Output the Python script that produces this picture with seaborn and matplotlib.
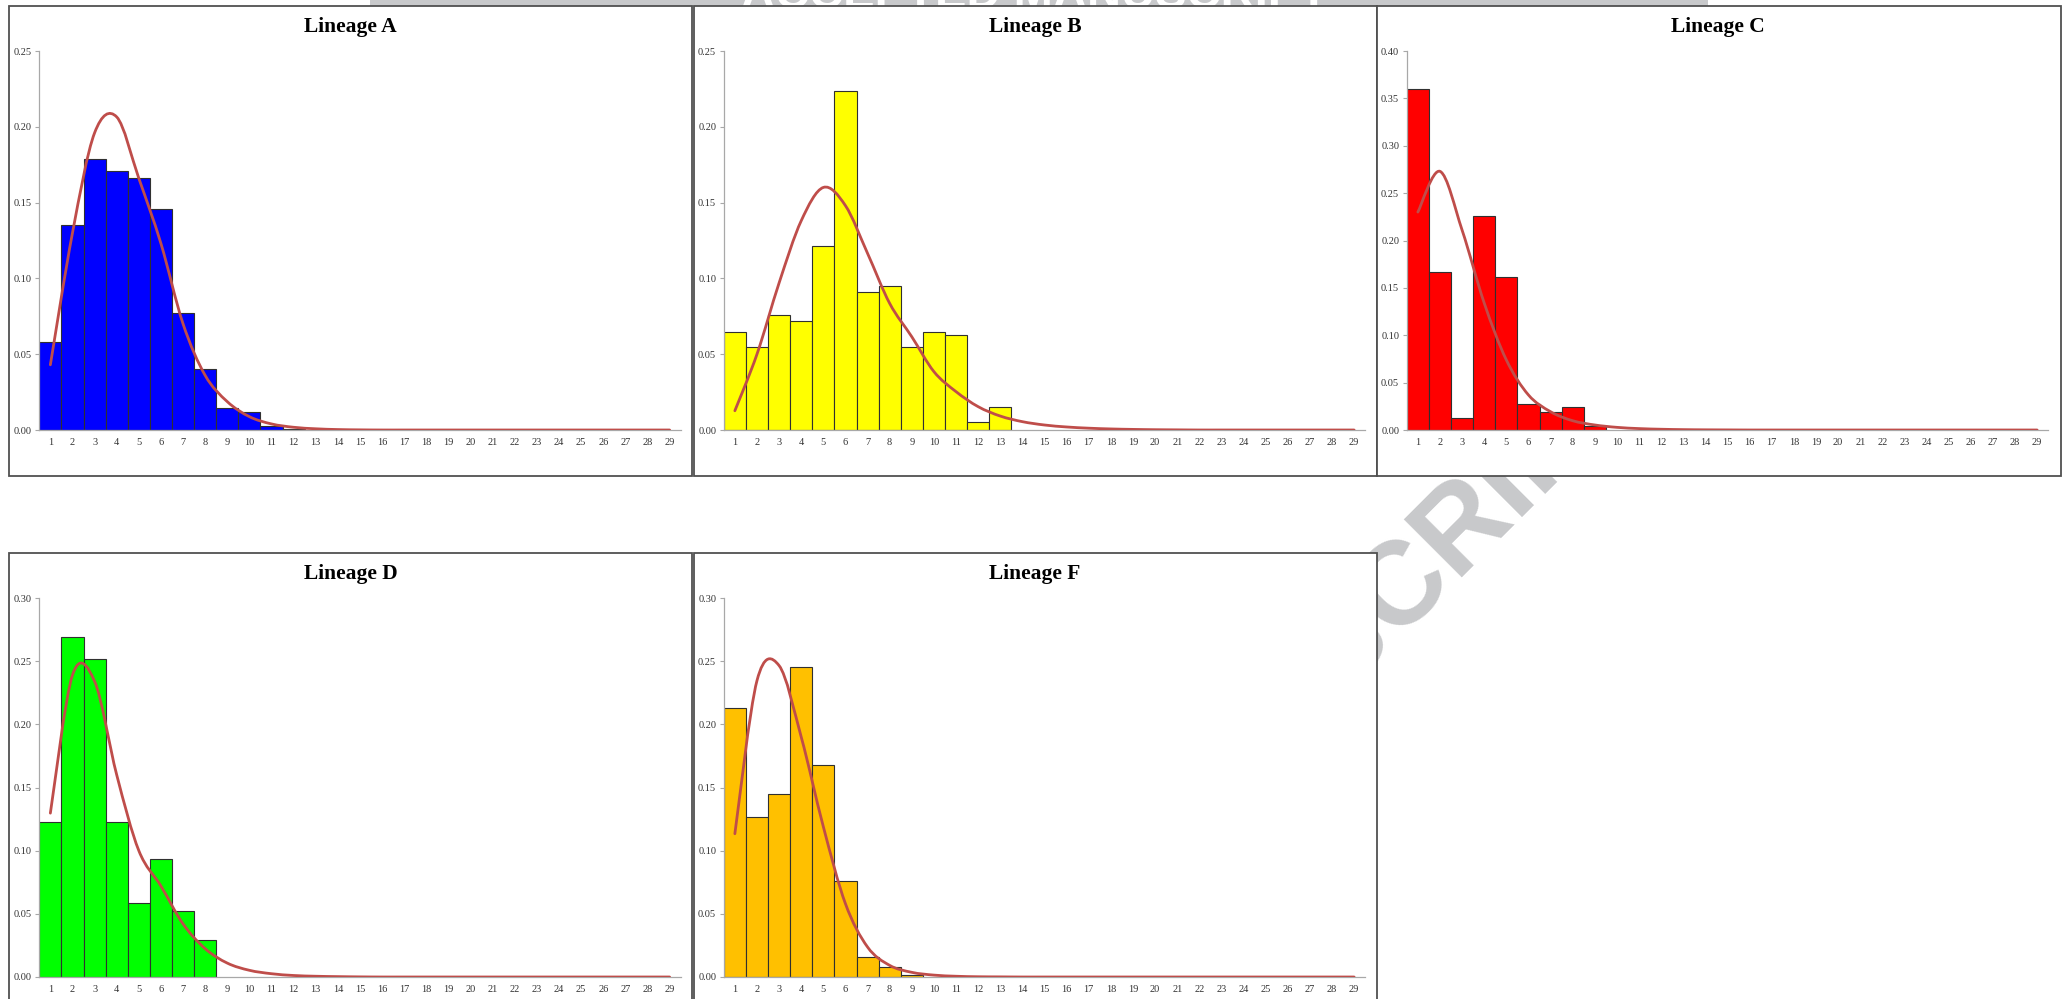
import numpy as np
import matplotlib
matplotlib.use("Agg")
import matplotlib.pyplot as plt
import seaborn as sns
from matplotlib.patches import Rectangle, PathPatch
from matplotlib.path import Path

sns.set_theme(style="white")
plt.rcParams["font.family"] = ["Liberation Serif", "DejaVu Serif"]

# x axis: days 1..29
days = list(range(1, 30))

# observed relative frequencies (starting at day 1)
freq_a = [0.058, 0.135, 0.179, 0.171, 0.166, 0.146, 0.077, 0.040, 0.0145, 0.0116, 0.0024, 0.0006]
freq_b = [0.0644, 0.0549, 0.0758, 0.0721, 0.1211, 0.2237, 0.0908, 0.0947, 0.0549, 0.0644, 0.0626, 0.0055, 0.0149]
freq_c = [0.3603, 0.1663, 0.0123, 0.2257, 0.162, 0.0278, 0.0193, 0.0239, 0.0046]
freq_d = [0.1223, 0.2689, 0.2518, 0.1223, 0.0583, 0.0933, 0.0525, 0.0293]
freq_f = [0.2128, 0.1268, 0.1445, 0.2457, 0.1679, 0.0759, 0.0156, 0.0079, 0.0013]

# fitted distribution evaluated at days 1..29
fit_a = [0.043, 0.130, 0.196, 0.2065, 0.166, 0.123, 0.070, 0.036, 0.0187, 0.0088,
         0.004, 0.0018, 0.0008, 0.0003, 0.0001, 0, 0, 0, 0, 0, 0, 0, 0, 0, 0, 0, 0, 0, 0]
fit_b = [0.0127, 0.050, 0.097, 0.138, 0.160, 0.148, 0.1165, 0.0835, 0.0615, 0.0385,
         0.0253, 0.0154, 0.0092, 0.0055, 0.0033, 0.002, 0.0012, 0.0007, 0.0004, 0.0002,
         0.0001, 0, 0, 0, 0, 0, 0, 0, 0]
fit_c = [0.230, 0.273, 0.211, 0.134, 0.074, 0.037, 0.0193, 0.0098, 0.0053, 0.0028,
         0.0015, 0.0008, 0.0004, 0.0002, 0.0001, 0, 0, 0, 0, 0, 0, 0, 0, 0, 0, 0, 0, 0, 0]
fit_d = [0.1297, 0.239, 0.234, 0.160, 0.100, 0.0720, 0.042, 0.0224, 0.011, 0.0053,
         0.0026, 0.0012, 0.0006, 0.0003, 0.0001, 0, 0, 0, 0, 0, 0, 0, 0, 0, 0, 0, 0, 0, 0]
fit_f = [0.1134, 0.2346, 0.2465, 0.190, 0.119, 0.058, 0.0237, 0.0092, 0.0037, 0.0015,
         0.0006, 0.0002, 0.0001, 0, 0, 0, 0, 0, 0, 0, 0, 0, 0, 0, 0, 0, 0, 0, 0]

titles = ["Lineage A", "Lineage B", "Lineage C", "Lineage D", "Lineage F"]
y_max = [0.25, 0.25, 0.40, 0.30, 0.30]
bar_colors = ["#0000FF", "#FFFF00", "#FF0000", "#00FF00", "#FFC000"]
observed = [freq_a, freq_b, freq_c, freq_d, freq_f]
fitted = [fit_a, fit_b, fit_c, fit_d, fit_f]

# panel frames in pixels: (left, top, width)
frames = [(9.0, 6.0, 682.5), (693.5, 6.0, 683.0), (1376.5, 6.0, 684.5),
          (9.0, 553.0, 682.5), (693.5, 553.0, 683.0)]

W, H = 2069, 999
fig = plt.figure(figsize=(W / 100, H / 100), dpi=100)
fig.patch.set_facecolor("white")


def fx(x):
    return x / W


def fy(y):
    return 1 - y / H


def smooth_path(xs, ys, t=1 / 6):
    pts = np.column_stack([xs, ys]).astype(float)
    n = len(pts)
    verts = [pts[0]]
    codes = [Path.MOVETO]
    for i in range(n - 1):
        p0 = pts[i - 1] if i > 0 else pts[i]
        p1, p2 = pts[i], pts[i + 1]
        p3 = pts[i + 2] if i + 2 < n else pts[i + 1]
        verts += [p1 + (p2 - p0) * t, p2 - (p3 - p1) * t, p2]
        codes += [Path.CURVE4] * 3
    return Path(verts, codes)


# header band and diagonal watermark, both sitting behind the panels
fig.add_artist(Rectangle((fx(370), fy(7)), (1708 - 370) / W, 7 / H, transform=fig.transFigure,
                         facecolor="#c8c9cb", edgecolor="none", zorder=0.2))
fig.text(0.5, fy(8), "ACCEPTED MANUSCRIPT", ha="center", va="baseline", color="white",
         fontsize=34, fontweight="bold", family="Liberation Sans", zorder=0.3)
fig.text(fx(1345), fy(644), "MANUSCRIPT", rotation=45, rotation_mode="anchor",
         ha="center", va="center", color="#c8c9cb", fontsize=85, fontweight="bold",
         family="Liberation Sans", zorder=0.4)

for title, ymax, col, obs, fit, (left, top, width) in zip(titles, y_max, bar_colors,
                                                           observed, fitted, frames):
    fig.add_artist(Rectangle((fx(left), fy(top + 470)), width / W, 470 / H,
                             transform=fig.transFigure, facecolor="white",
                             edgecolor="#505050", linewidth=1.3, zorder=1))
    ax = fig.add_axes([fx(left + 30.3), fy(top + 424), 641.4 / W, 379 / H])
    ax.set_zorder(2)

    sns.histplot(x=days[:len(obs)], weights=obs, discrete=True, color=col, alpha=1,
                 edgecolor="#303030", linewidth=0.8, ax=ax)
    ax.add_patch(PathPatch(smooth_path(days, fit), facecolor="none", edgecolor="#BF4D4A",
                           linewidth=2.0, transform=ax.transData, zorder=3,
                           capstyle="round", joinstyle="round"))

    ax.set_xlim(0.5, 29.5)
    ax.set_ylim(0, ymax)
    yt = np.arange(0, ymax + 1e-9, 0.05)
    ax.set_yticks(yt)
    ax.set_yticklabels([f"{v:.2f}" for v in yt])
    ax.set_xticks(days)
    ax.set_xticklabels([str(d) for d in days])
    ax.set_xlabel("")
    ax.set_ylabel("")
    for s in ("top", "right"):
        ax.spines[s].set_visible(False)
    for s in ("left", "bottom"):
        ax.spines[s].set_color("#a8a8a8")
        ax.spines[s].set_linewidth(0.9)
    ax.tick_params(axis="y", direction="out", length=3, width=0.8, color="#a8a8a8",
                   pad=2.5, labelsize=7.5, labelcolor="#333333", left=True)
    ax.tick_params(axis="x", length=0, pad=6, labelsize=7.5, labelcolor="#333333")
    ax.grid(False)

    fig.text(fx(left + 341.5), fy(top + 21), title, ha="center", va="center",
             fontsize=15.5, fontweight="bold", color="black", zorder=3)

fig.savefig("out.png", dpi=100, facecolor="white")
